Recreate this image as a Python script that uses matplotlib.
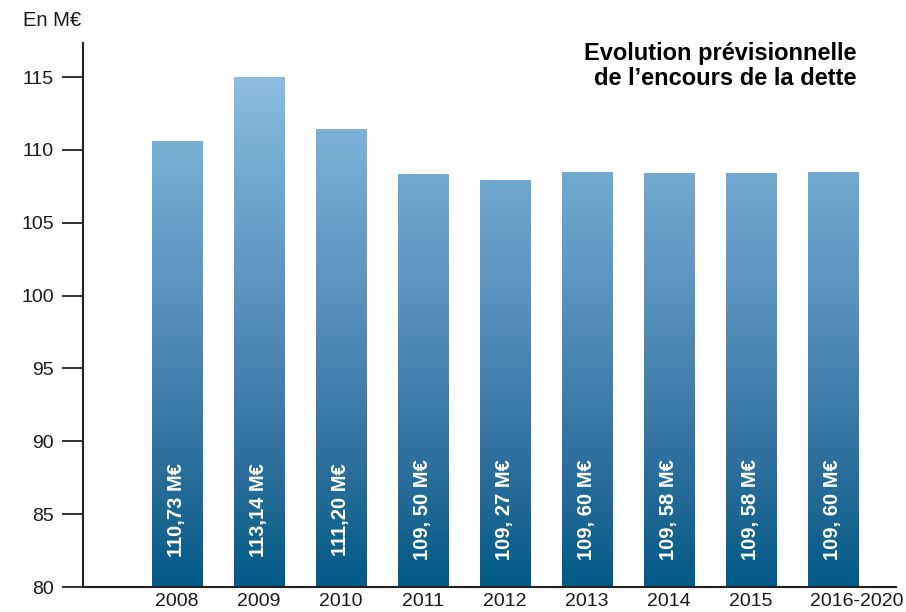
import numpy as np
import matplotlib.pyplot as plt
from matplotlib.colors import LinearSegmentedColormap
from matplotlib.transforms import ScaledTranslation

plt.rcParams['font.family'] = ['Liberation Sans', 'DejaVu Sans']

# data
years = ['2008', '2009', '2010', '2011', '2012', '2013', '2014', '2015', '2016-2020']
heights = [110.55, 115.0, 111.43, 108.28, 107.87, 108.48, 108.41, 108.41, 108.48]
labels = ['110,73 M€', '113,14 M€', '111,20 M€', '109, 50 M€', '109, 27 M€',
          '109, 60 M€', '109, 58 M€', '109, 58 M€', '109, 60 M€']

ymin, ymax = 80, 117.34
# colour stops of the vertical gradient (80 -> 115)
grad_colors = ['#005a86', '#1d6792', '#3574a2', '#4783b0', '#5a92be',
               '#69a0ca', '#77aed4', '#8cbde1']
cmap = LinearSegmentedColormap.from_list('grad', grad_colors)

fig = plt.figure(figsize=(9.06, 6.12), dpi=100)
ax = fig.add_axes([83/906, 25/612, 813/906, 544/612])

x = np.arange(len(years))
w = 0.61
# gradient bars: colour follows the absolute y value
for xi, h, lab in zip(x, heights, labels):
    grad = np.linspace(ymin, h, 256).reshape(-1, 1)
    ax.imshow(grad, extent=(xi - w/2, xi + w/2, ymin, h), origin='lower',
              cmap=cmap, vmin=80, vmax=115, aspect='auto', zorder=2)
    ax.text(xi, 85.3, lab, rotation=90, ha='center', va='center', color='white',
            fontsize=14.5, fontweight='bold', zorder=3)

ax.set_xlim(-1.14, 8.77)
ax.set_ylim(ymin, ymax)
ax.set_xticks(x)
ax.set_xticklabels(years, fontsize=14, color='#1a1a1a')
ax.set_yticks([80, 85, 90, 95, 100, 105, 110, 115])
ax.tick_params(axis='y', length=15, width=1.3, direction='out', pad=6, labelsize=14,
               color='#222222', labelcolor='#1a1a1a')
ax.tick_params(axis='x', length=0, pad=4)
# last label sits a bit to the right in the original
lbl = ax.get_xticklabels()[-1]
lbl.set_transform(lbl.get_transform() + ScaledTranslation(24/100, 0, fig.dpi_scale_trans))

for s in ['top', 'right']:
    ax.spines[s].set_visible(False)
for s in ['left', 'bottom']:
    ax.spines[s].set_linewidth(1.5)
    ax.spines[s].set_color('#222222')

fig.text(23/906, 1 - 21/612, 'En M€', fontsize=14.5, va='center', ha='left', color='#1a1a1a')
ax.text(857/906, 1 - 66/612, 'Evolution prévisionnelle\nde l’encours de la dette',
        transform=fig.transFigure, ha='right', va='center', fontsize=17,
        fontweight='bold', linespacing=1.15)

fig.savefig('out.png', dpi=100)
